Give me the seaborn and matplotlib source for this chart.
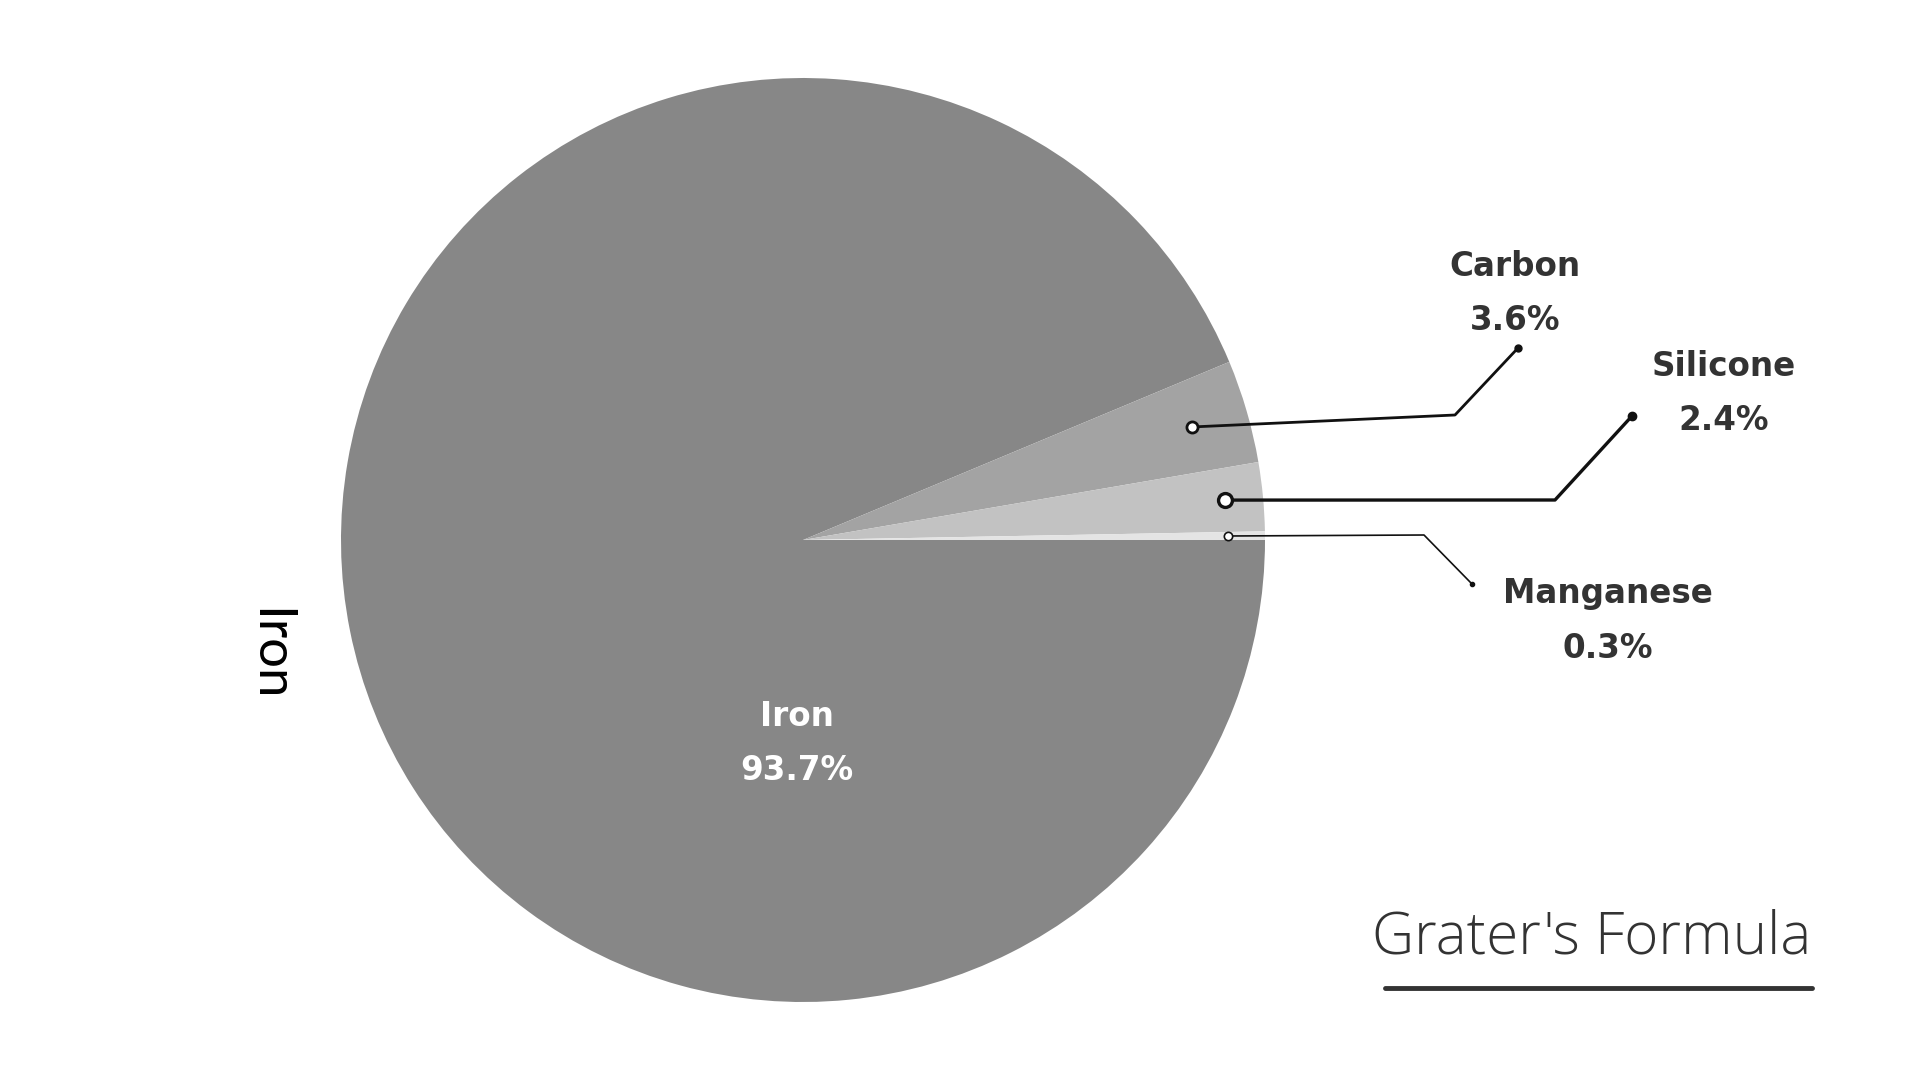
import numpy as np
import matplotlib
matplotlib.use("Agg")
import matplotlib.pyplot as plt
import matplotlib.transforms as mtransforms
import seaborn as sns

# composition of grey cast iron (Grater's formula)
elements = ["Iron", "Carbon", "Silicone", "Manganese"]
shares = [93.7, 3.6, 2.4, 0.3]
colors = ["#878787", "#a3a3a3", "#c2c2c2", "#e4e4e4"]

sns.set_theme(style="white")
plt.rcParams["font.family"] = ["DejaVu Sans"]

W, H = 1920, 1080
fig = plt.figure(figsize=(W / 100, H / 100), dpi=100)
fig.patch.set_facecolor("white")

# pie centre / radius in pixels
cx, cy, r = 803, 540, 462
ax = fig.add_axes([(cx - r) / W, (H - cy - r) / H, 2 * r / W, 2 * r / H])
wedges, _ = ax.pie(shares, colors=colors, startangle=0, counterclock=False,
                   radius=1, wedgeprops=dict(linewidth=0))
ax.set_xlim(-1, 1)
ax.set_ylim(-1, 1)
ax.set_aspect("equal")
ax.axis("off")

# pixel transform, origin top-left
px = mtransforms.Affine2D().scale(1 / W, -1 / H).translate(0, 1) + fig.transFigure

dark = "#333333"
lab = dict(fontsize=23.5, fontweight="bold", ha="center", va="center")

# Iron label inside the pie
fig.text(797, 716, elements[0], transform=px, color="white", **lab)
fig.text(797, 771, f"{shares[0]}%", transform=px, color="white", **lab)

# leader lines for the small slices: (start radius, elbow, end, name pos, lw, marker size)
leaders = {
    "Carbon": (0.877, (1455, 415), (1518, 348), (1515, 267), 2.0, 8),
    "Silicone": (0.918, (1555, 500), (1632, 416), (1724, 367), 2.4, 10),
    "Manganese": (0.92, (1424, 535), (1472, 584), (1608, 594), 1.2, 6),
}
for w, name, val in zip(wedges[1:], elements[1:], shares[1:]):
    fr, elbow, end, pos, lw, ms = leaders[name]
    mid = np.deg2rad((w.theta1 + w.theta2) / 2)
    sx = cx + fr * r * np.cos(mid)
    sy = cy - fr * r * np.sin(mid)
    fig.add_artist(plt.Line2D([sx, elbow[0], end[0]], [sy, elbow[1], end[1]],
                              transform=px, color="#111111", lw=lw))
    fig.add_artist(plt.Line2D([sx], [sy], transform=px, marker="o", ms=ms,
                              mfc="white", mec="#111111", mew=lw, lw=0))
    fig.add_artist(plt.Line2D([end[0]], [end[1]], transform=px, marker="o",
                              ms=lw * 2.5, color="#111111", lw=0))
    fig.text(pos[0], pos[1], name, transform=px, color=dark, **lab)
    fig.text(pos[0], pos[1] + 54, f"{val}%", transform=px, color=dark, **lab)

# pandas-style y label left of the pie
fig.text(269, 655, "Iron", transform=px, ha="center", va="center",
         rotation=270, color="black", fontsize=38, family=["Lato", "DejaVu Sans"])

# title with underline
fig.text(1811, 938, "Grater's Formula", transform=px, ha="right", va="center",
         color=dark, fontsize=42, fontweight="light",
         family=["Open Sans", "DejaVu Sans"])
fig.add_artist(plt.Line2D([1385, 1812], [988, 988], transform=px,
                          color=dark, lw=3.5))

fig.savefig("out.png", dpi=100)
